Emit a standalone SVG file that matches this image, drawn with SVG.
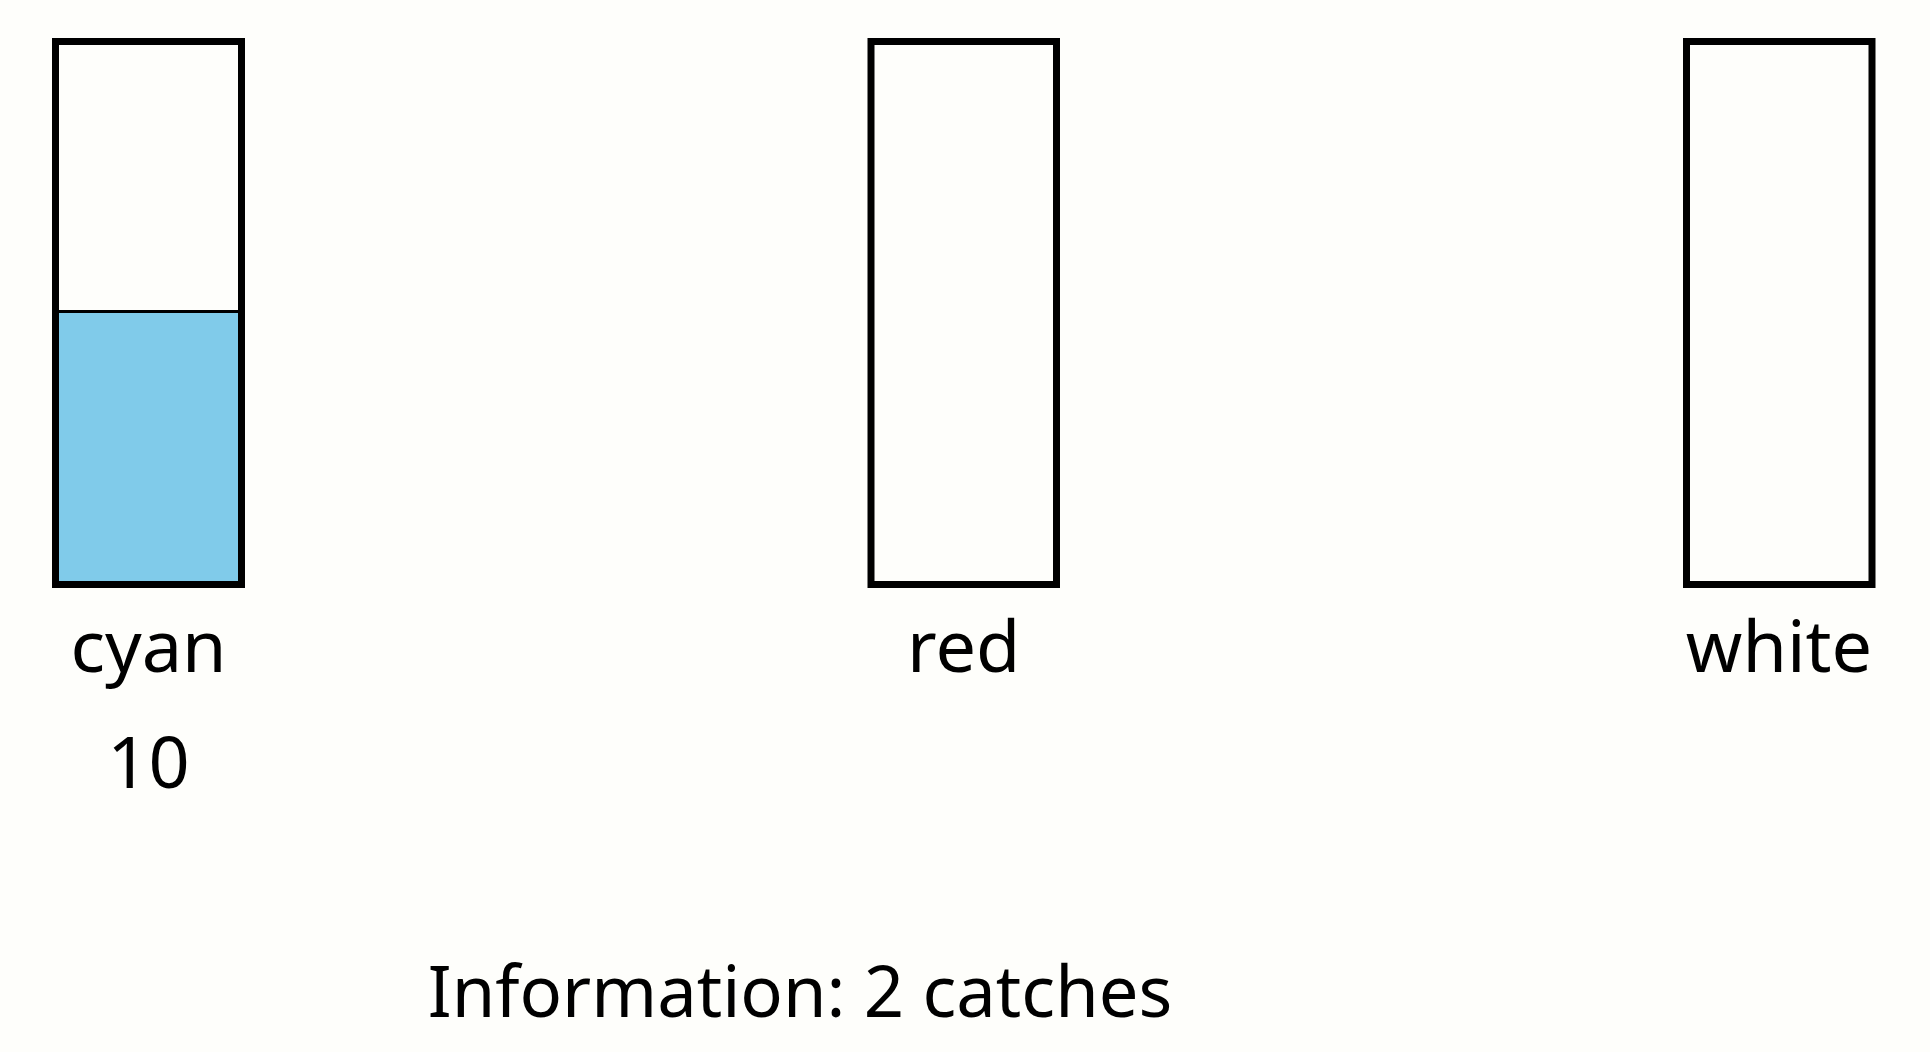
<svg xmlns="http://www.w3.org/2000/svg" width="1930" height="1052" viewBox="0 0 1930 1052">
<style>
.bar{fill:none;stroke:#000;stroke-width:7}
.lvl{fill:#80cbea;stroke:#000;stroke-width:3}
.lbl{font-family:"Noto Sans","Open Sans",sans-serif;font-size:72px;fill:#000;text-anchor:middle}
.info{font-size:70.5px}
</style>
<rect width="1930" height="1052" fill="#fefefb"/>
<g id="cyan">
<rect class="lvl" x="55.5" y="311.5" width="186" height="273"/>
<rect class="bar" x="55.5" y="41.5" width="186" height="543"/>
<text class="lbl" x="148.5" y="672">cyan</text>
<text class="lbl" x="148.5" y="788">10</text>
</g>
<g id="red">
<rect class="bar" x="871" y="41.5" width="185.5" height="543"/>
<text class="lbl" x="963.7" y="672">red</text>
</g>
<g id="white">
<rect class="bar" x="1686.5" y="41.5" width="185.5" height="543"/>
<text class="lbl" x="1779" y="672">white</text>
</g>
<g id="connectors"></g>
<g id="info">
<text class="lbl info" x="800" y="1017">Information: 2 catches</text>
</g>
</svg>
